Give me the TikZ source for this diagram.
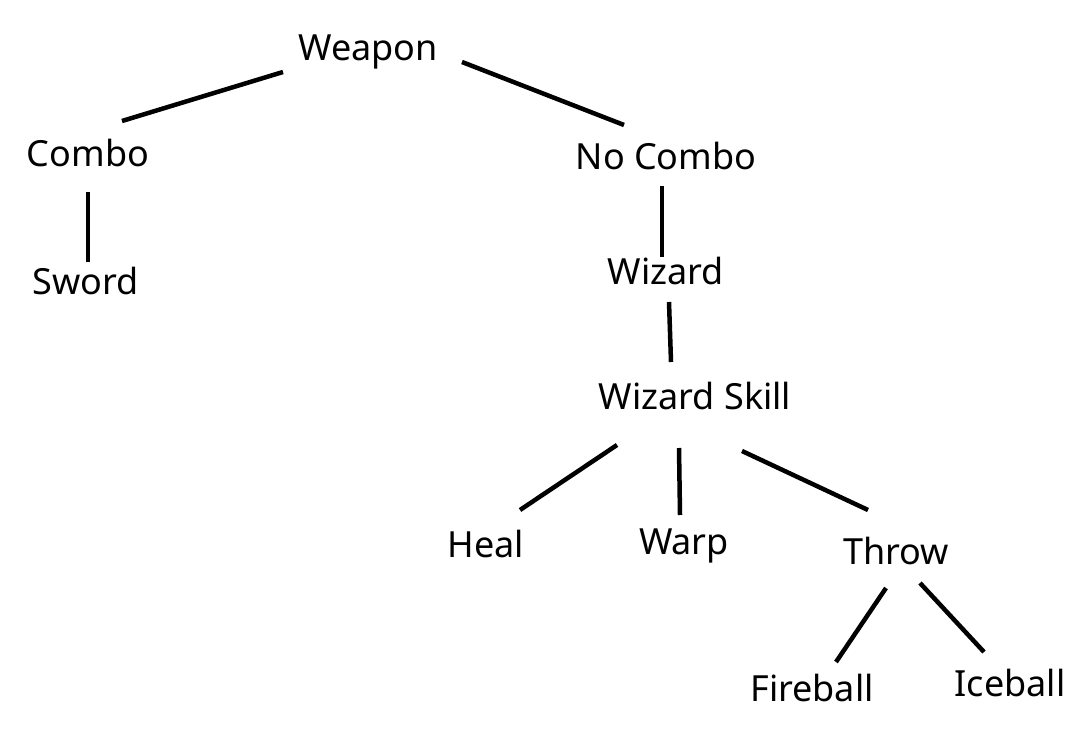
\documentclass[tikz,border=0pt]{standalone}
\usepackage{fontspec}
\setmainfont{Noto Sans}
\usetikzlibrary{calc}
\begin{document}
\begin{tikzpicture}[x=1pt,y=-1pt,
  lbl/.style={inner sep=0pt,font=\fontsize{36}{40}\selectfont},
  edge/.style={line width=4.5pt,black}]
\useasboundingbox[fill=white] (0,0) rectangle (1083,743);
\node[lbl] (weapon) at (368,52) {Weapon};
\node[lbl] (combo) at (88,153) {Combo};
\node[lbl] (nocombo) at (666,156) {No Combo};
\node[lbl] (sword) at (86,281) {Sword};
\node[lbl] (wizard) at (666,271) {Wizard};
\node[lbl] (skill) at (695,396) {Wizard Skill};
\node[lbl] (heal) at (486,544) {Heal};
\node[lbl] (warp) at (684,546) {Warp};
\node[lbl] (throw) at (896,551) {Throw};
\node[lbl] (fireball) at (812,688) {Fireball};
\node[lbl] (iceball) at (1010,683) {Iceball};
\draw[edge] ($(weapon)+(-85,20)$) -- ($(combo)+(34,-32)$);
\draw[edge] ($(weapon)+(94,10)$) -- ($(nocombo)+(-42,-31)$);
\draw[edge] ($(combo)+(0,39)$) -- ($(sword)+(2,-19)$);
\draw[edge] ($(nocombo)+(-4,30)$) -- ($(wizard)+(-4,-14)$);
\draw[edge] ($(wizard)+(3,31)$) -- ($(skill)+(-24,-34)$);
\draw[edge] ($(skill)+(-78,49)$) -- ($(heal)+(34,-34)$);
\draw[edge] ($(skill)+(-16,52)$) -- ($(warp)+(-4,-31)$);
\draw[edge] ($(skill)+(47,55)$) -- ($(throw)+(-28,-41)$);
\draw[edge] ($(throw)+(-10,37)$) -- ($(fireball)+(24,-26)$);
\draw[edge] ($(throw)+(24,32)$) -- ($(iceball)+(-26,-31)$);
\end{tikzpicture}
\end{document}
